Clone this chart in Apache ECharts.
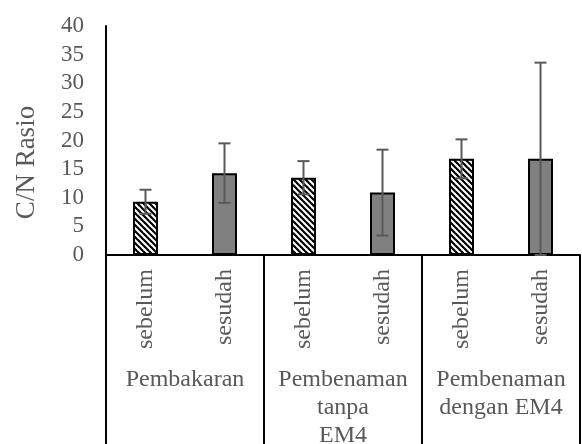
<!DOCTYPE html>
<html>
<head>
<meta charset="utf-8">
<script src="https://cdn.jsdelivr.net/npm/echarts@6/dist/echarts.min.js"></script>
<style>
html,body{margin:0;padding:0;background:#fff;}
#chart{width:582px;height:444px;}
</style>
</head>
<body>
<div id="chart"></div>
<script>
// Data
const subCategories = ['sebelum', 'sesudah', 'sebelum', 'sesudah', 'sebelum', 'sesudah'];
const groupCategories = ['Pembakaran', 'Pembenaman\ntanpa\nEM4', 'Pembenaman\ndengan EM4'];
const cnValues = [9.3, 14.3, 13.5, 10.9, 16.8, 16.8];
const cnErrors = [2.1, 5.2, 2.9, 7.5, 3.4, 16.8];
const yTicks = { min: 0, max: 40, interval: 5 };
const axisTitle = 'C/N Rasio';

// hatch pattern for "sebelum"
function makeHatch() {
  const s = 6;
  const c = document.createElement('canvas');
  c.width = s; c.height = s;
  const ctx = c.getContext('2d');
  ctx.fillStyle = '#fff';
  ctx.fillRect(0, 0, s, s);
  ctx.strokeStyle = '#000';
  ctx.lineWidth = 2.2;
  for (let o = -s; o <= s; o += s) {
    ctx.beginPath();
    ctx.moveTo(o - 1, -1);
    ctx.lineTo(o + s + 1, s + 1);
    ctx.stroke();
  }
  return c;
}
const hatch = makeHatch();

const font = "'Liberation Serif', 'Times New Roman', serif";
const textColor = '#595959';

const barData = cnValues.map((v, i) => ({
  value: v,
  itemStyle: subCategories[i] === 'sebelum'
    ? { color: { image: hatch, repeat: 'repeat' }, borderColor: '#000', borderWidth: 2 }
    : { color: '#808080', borderColor: '#000', borderWidth: 2 }
}));
const errData = cnValues.map((v, i) => [i, v, cnErrors[i]]);

const chart = echarts.init(document.getElementById('chart'), null, { renderer: 'canvas' });
chart.setOption({
  animation: false,
  backgroundColor: '#fff',
  grid: { left: 106, right: 2, top: 26, bottom: 189, containLabel: false, outerBoundsMode: 'none' },
  xAxis: [
    {
      type: 'category',
      data: subCategories,
      position: 'bottom',
      boundaryGap: true,
      axisLine: { show: true, lineStyle: { color: '#000', width: 2 } },
      axisTick: { show: false },
      axisLabel: {
        interval: 0, rotate: 90, margin: 14,
        fontFamily: font, fontSize: 24, color: textColor
      },
      splitLine: { show: false }
    },
    {
      type: 'category',
      data: groupCategories,
      position: 'bottom',
      boundaryGap: true,
      axisLine: { show: false },
      axisTick: { show: true, interval: 0, length: 189, lineStyle: { color: '#000', width: 2 } },
      axisLabel: {
        interval: 0, margin: 111, lineHeight: 28,
        fontFamily: font, fontSize: 24, color: textColor, align: 'center', verticalAlign: 'top'
      },
      splitLine: { show: false }
    }
  ],
  yAxis: {
    type: 'value',
    min: yTicks.min, max: yTicks.max, interval: yTicks.interval,
    name: axisTitle,
    nameLocation: 'middle',
    nameRotate: 90,
    nameGap: 66,
    nameTextStyle: { fontFamily: font, fontSize: 27, color: textColor, padding: [0, 44, 0, 0] },
    axisLine: { show: true, lineStyle: { color: '#000', width: 2 } },
    axisTick: { show: false },
    splitLine: { show: false },
    axisLabel: { margin: 22, fontFamily: font, fontSize: 23, color: textColor }
  },
  series: [
    {
      type: 'bar',
      xAxisIndex: 0,
      barWidth: 25,
      data: barData,
      z: 2
    },
    {
      type: 'custom',
      xAxisIndex: 0,
      z: 5,
      data: errData,
      renderItem: function (params, api) {
        const idx = api.value(0);
        const v = api.value(1);
        const e = api.value(2);
        const top = api.coord([idx, v + e]);
        const bot = api.coord([idx, Math.max(0, v - e)]);
        const hw = 6;
        const style = { stroke: '#595959', lineWidth: 2 };
        return {
          type: 'group',
          children: [
            { type: 'line', shape: { x1: top[0], y1: top[1], x2: bot[0], y2: bot[1] }, style: style },
            { type: 'line', shape: { x1: top[0] - hw, y1: top[1], x2: top[0] + hw, y2: top[1] }, style: style },
            { type: 'line', shape: { x1: bot[0] - hw, y1: bot[1], x2: bot[0] + hw, y2: bot[1] }, style: style }
          ]
        };
      }
    }
  ]
});
</script>
</body>
</html>
